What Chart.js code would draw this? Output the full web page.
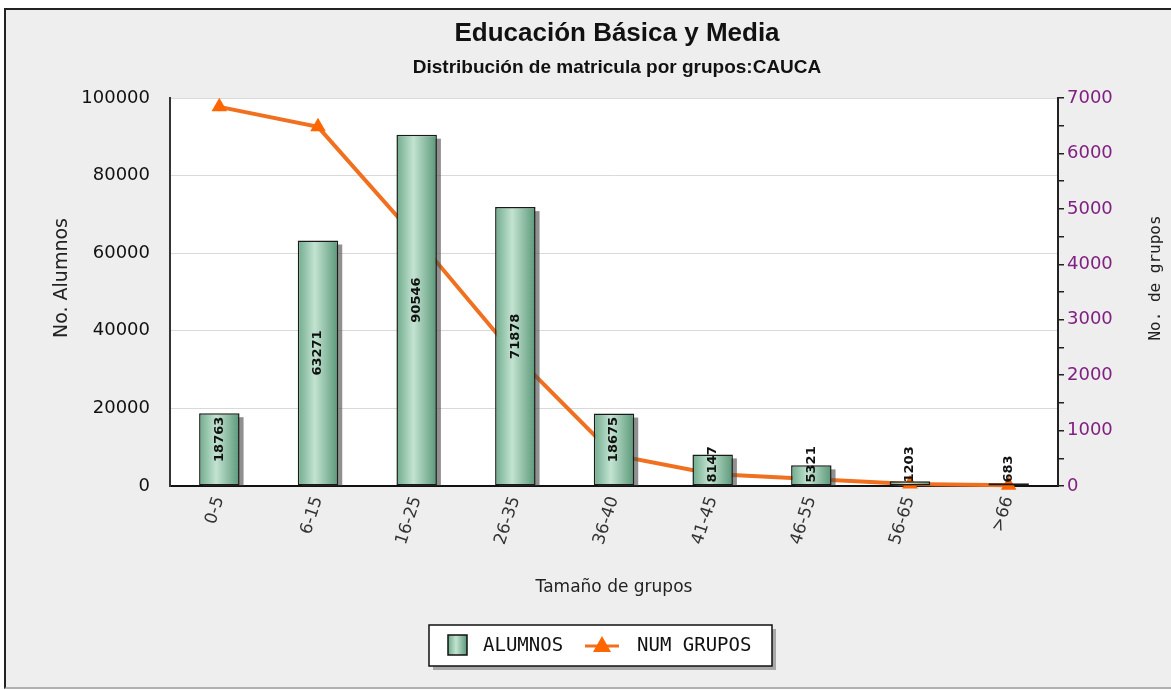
<!DOCTYPE html>
<html>
<head>
<meta charset="utf-8">
<title>Educación Básica y Media</title>
<script src="https://cdn.jsdelivr.net/npm/chart.js@4.4.0/dist/chart.umd.min.js"></script>
<style>
    html, body { margin: 0; padding: 0; background: #ffffff; overflow: hidden; }
    #frame {
        position: absolute; left: 4px; top: 8px; width: 1400px; height: 681px;
        box-sizing: border-box; background: #eeeeee;
        border-top: 2px solid #222; border-left: 2px solid #222; border-bottom: 2px solid #b0b0b0;
    }
    #wrap { position: absolute; left: 6px; top: 10px; width: 1222px; height: 676px; }
</style>
</head>
<body>
<div id="frame"></div>
<div id="wrap"><canvas id="matricula_chart"></canvas></div>
<script>
    // Datos
    var grupos = ['0-5', '6-15', '16-25', '26-35', '36-40', '41-45', '46-55', '56-65', '>66'];
    var alumnos = [18763, 63271, 90546, 71878, 18675, 8147, 5321, 1203, 683];
    var numGrupos = [6840, 6480, 4470, 2350, 560, 215, 125, 35, 15];

    var alumnosMax = 100000;
    var alumnosStep = 20000;
    var gruposMax = 7000;
    var gruposStep = 500;

    var barPct = 0.41;

    function greenGradient(ctx, x0, x1) {
        var g = ctx.createLinearGradient(x0, 0, x1, 0);
        g.addColorStop(0, '#6fab8c');
        g.addColorStop(0.42, '#c3e3d1');
        g.addColorStop(1, '#5a9878');
        return g;
    }

    function barFill(context) {
        var chart = context.chart;
        if (!chart.chartArea || !chart.scales.x) return '#9fcdb4';
        var xs = chart.scales.x;
        var cx = xs.getPixelForValue(context.dataIndex);
        var half = xs.width / grupos.length * barPct / 2;
        return greenGradient(chart.ctx, cx - half, cx + half);
    }

    // fondo blanco del area de trazado
    var plotBackground = {
        id: 'plotBackground',
        beforeDraw: function (chart) {
            var a = chart.chartArea;
            var ctx = chart.ctx;
            ctx.save();
            ctx.fillStyle = '#ffffff';
            ctx.fillRect(a.left, a.top, a.right - a.left, a.bottom - a.top);
            ctx.restore();
        }
    };

    // sombra gris de las barras
    var barShadow = {
        id: 'barShadow',
        beforeDatasetDraw: function (chart, args) {
            if (args.index !== 0) return;
            var ctx = chart.ctx;
            ctx.save();
            ctx.fillStyle = 'rgba(85, 85, 85, 0.65)';
            args.meta.data.forEach(function (bar) {
                var h = bar.base - bar.y - 4;
                if (h <= 0) return;
                ctx.fillRect(bar.x - bar.width / 2 + 4, bar.y + 4, bar.width, h);
            });
            ctx.restore();
        }
    };

    // valores verticales sobre las barras
    var barLabels = {
        id: 'barLabels',
        afterDatasetsDraw: function (chart) {
            var ctx = chart.ctx;
            var meta = chart.getDatasetMeta(0);
            ctx.save();
            ctx.font = 'bold 13px "DejaVu Sans"';
            ctx.fillStyle = '#111111';
            ctx.textAlign = 'center';
            ctx.textBaseline = 'middle';
            meta.data.forEach(function (bar, i) {
                var text = String(alumnos[i]);
                var len = ctx.measureText(text).width;
                var h = bar.base - bar.y;
                var cy = (h > len + 10) ? (bar.y + bar.base) / 2 - 10 : bar.base - 3 - len / 2;
                ctx.save();
                ctx.translate(bar.x, cy);
                ctx.rotate(-Math.PI / 2);
                ctx.fillText(text, 0, 0);
                ctx.restore();
            });
            ctx.restore();
        }
    };

    // titulos de los ejes verticales
    var axisTitles = {
        id: 'axisTitles',
        afterDraw: function (chart) {
            var ctx = chart.ctx;
            var a = chart.chartArea;
            var midY = (a.top + a.bottom) / 2 - 14;
            ctx.save();
            ctx.textAlign = 'center';
            ctx.textBaseline = 'middle';
            ctx.fillStyle = '#222222';

            ctx.font = '19px "DejaVu Sans"';
            ctx.save();
            ctx.translate(a.left - 108, midY);
            ctx.rotate(-Math.PI / 2);
            ctx.fillText('No. Alumnos', 0, 0);
            ctx.restore();

            ctx.font = '16px "DejaVu Sans Mono"';
            ctx.save();
            ctx.translate(a.right + 98, midY);
            ctx.rotate(-Math.PI / 2);
            ctx.fillText('No. de grupos', 0, 0);
            ctx.restore();
            ctx.restore();
        }
    };

    // leyenda con recuadro y sombra
    var legendBox = {
        id: 'legendBox',
        afterDraw: function (chart) {
            var ctx = chart.ctx;
            var x = 423, y = 615, w = 343, h = 41;
            ctx.save();
            ctx.fillStyle = '#a8a8a8';
            ctx.fillRect(x + 4, y + 4, w, h);
            ctx.fillStyle = '#ffffff';
            ctx.fillRect(x, y, w, h);
            ctx.strokeStyle = '#111111';
            ctx.lineWidth = 1.5;
            ctx.strokeRect(x, y, w, h);

            // muestra barras
            ctx.fillStyle = greenGradient(ctx, x + 19, x + 38);
            ctx.fillRect(x + 19, y + 10, 19, 20);
            ctx.strokeRect(x + 19, y + 10, 19, 20);

            // muestra linea
            ctx.strokeStyle = '#f07020';
            ctx.lineWidth = 3;
            ctx.beginPath();
            ctx.moveTo(x + 156, y + 21);
            ctx.lineTo(x + 190, y + 21);
            ctx.stroke();
            ctx.fillStyle = '#ff6600';
            ctx.beginPath();
            ctx.moveTo(x + 173, y + 11);
            ctx.lineTo(x + 182, y + 27);
            ctx.lineTo(x + 164, y + 27);
            ctx.closePath();
            ctx.fill();

            ctx.fillStyle = '#111111';
            ctx.font = '19px "DejaVu Sans Mono"';
            ctx.textBaseline = 'middle';
            ctx.textAlign = 'left';
            ctx.fillText('ALUMNOS', x + 54, y + 21);
            ctx.fillText('NUM GRUPOS', x + 208, y + 21);
            ctx.restore();
        }
    };

    var ctx = document.getElementById('matricula_chart').getContext('2d');
    window.matriculaChart = new Chart(ctx, {
        type: 'bar',
        data: {
            labels: grupos,
            datasets: [{
                type: 'bar',
                label: 'ALUMNOS',
                data: alumnos,
                yAxisID: 'y',
                order: 1,
                backgroundColor: barFill,
                borderColor: '#1a1a1a',
                borderWidth: 1.5,
                borderSkipped: false,
                barPercentage: barPct,
                categoryPercentage: 1
            }, {
                type: 'line',
                label: 'NUM GRUPOS',
                data: numGrupos,
                yAxisID: 'y1',
                order: 2,
                borderColor: '#f07020',
                borderWidth: 4,
                tension: 0,
                pointStyle: 'triangle',
                pointRadius: 9,
                pointBackgroundColor: '#ff6600',
                pointBorderColor: '#ff6600',
                pointBorderWidth: 0,
                clip: false
            }]
        },
        options: {
            responsive: true,
            maintainAspectRatio: false,
            animation: false,
            layout: {
                padding: {top: 0, right: 0, bottom: 76, left: 0}
            },
            plugins: {
                legend: {display: false},
                tooltip: {enabled: false},
                title: {
                    display: true,
                    text: 'Educación Básica y Media',
                    color: '#111111',
                    font: {family: 'Liberation Sans', size: 26, weight: 'bold'},
                    padding: {top: 8, bottom: 3}
                },
                subtitle: {
                    display: true,
                    text: 'Distribución de matricula por grupos:CAUCA',
                    color: '#111111',
                    font: {family: 'Liberation Sans', size: 19, weight: 'bold'},
                    padding: {top: 4, bottom: 19}
                }
            },
            scales: {
                x: {
                    grid: {display: false, drawTicks: false},
                    border: {color: '#111111', width: 2},
                    ticks: {
                        color: '#333333',
                        font: {family: 'DejaVu Sans', size: 17},
                        minRotation: 72,
                        maxRotation: 72,
                        padding: 8,
                        autoSkip: false
                    },
                    title: {
                        display: true,
                        text: 'Tamaño de grupos',
                        color: '#222222',
                        font: {family: 'DejaVu Sans', size: 17},
                        padding: {top: 0, bottom: 12}
                    },
                    afterFit: function (scale) { scale.height = 124; }
                },
                y: {
                    position: 'left',
                    min: 0,
                    max: alumnosMax,
                    grid: {color: '#d9d9d9', drawTicks: false},
                    border: {color: '#333333', width: 2},
                    ticks: {
                        stepSize: alumnosStep,
                        color: '#111111',
                        font: {family: 'DejaVu Sans', size: 18},
                        padding: 20,
                        callback: function (v) { return String(v); }
                    },
                    afterFit: function (scale) { scale.width = 164; }
                },
                y1: {
                    position: 'right',
                    min: 0,
                    max: gruposMax,
                    grid: {drawOnChartArea: false, color: '#222222', tickLength: 6, lineWidth: 1.5},
                    border: {color: '#222222', width: 2},
                    ticks: {
                        stepSize: gruposStep,
                        autoSkip: false,
                        color: '#802080',
                        font: {family: 'DejaVu Sans', size: 18},
                        padding: 3,
                        callback: function (v) { return v % 1000 === 0 ? String(v) : ''; }
                    },
                    afterFit: function (scale) { scale.width = 170; }
                }
            }
        },
        plugins: [plotBackground, barShadow, barLabels, axisTitles, legendBox]
    });
</script>
</body>
</html>
